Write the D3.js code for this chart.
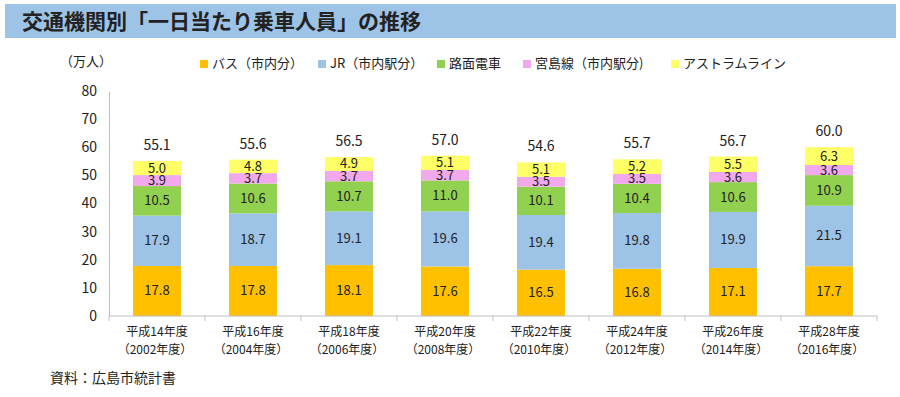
<!DOCTYPE html>
<html lang="ja">
<head>
<meta charset="UTF-8">
<title>交通機関別「一日当たり乗車人員」の推移</title>
<script src="https://d3js.org/d3.v7.min.js"></script>
<style>
  body { margin: 0; background: #fff; }
  svg text { font-family: "Noto Sans CJK JP", "Noto Sans", sans-serif; fill: #222; }
</style>
</head>
<body>
<div id="chart"></div>
<script>
// categories (two-line labels)
const years1 = ["平成14年度", "平成16年度", "平成18年度", "平成20年度", "平成22年度", "平成24年度", "平成26年度", "平成28年度"];
const years2 = ["（2002年度）", "（2004年度）", "（2006年度）", "（2008年度）", "（2010年度）", "（2012年度）", "（2014年度）", "（2016年度）"];

// series values (万人)
const bus     = [17.8, 17.8, 18.1, 17.6, 16.5, 16.8, 17.1, 17.7];
const jr      = [17.9, 18.7, 19.1, 19.6, 19.4, 19.8, 19.9, 21.5];
const tram    = [10.5, 10.6, 10.7, 11.0, 10.1, 10.4, 10.6, 10.9];
const miyajima = [3.9, 3.7, 3.7, 3.7, 3.5, 3.5, 3.6, 3.6];
const astram  = [5.0, 4.8, 4.9, 5.1, 5.1, 5.2, 5.5, 6.3];
const totals  = [55.1, 55.6, 56.5, 57.0, 54.6, 55.7, 56.7, 60.0];

const seriesNames = ["バス（市内分）", "JR（市内駅分）", "路面電車", "宮島線（市内駅分)", "アストラムライン"];
const seriesColors = ["#FFC000", "#9DC3E6", "#92D050", "#F2A9EC", "#FFFF66"];
const yTicks = [0, 10, 20, 30, 40, 50, 60, 70, 80];

const W = 900, H = 397;
const svg = d3.select("#chart").append("svg").attr("width", W).attr("height", H);

// title banner
svg.append("rect").attr("x", 5).attr("y", 4).attr("width", 891).attr("height", 34).attr("fill", "#9DC3E6");
svg.append("text").attr("x", 22).attr("y", 29).attr("font-size", 21).attr("font-weight", "bold")
  .text("交通機関別「一日当たり乗車人員」の推移");

const plot = { left: 109, right: 877, top: 91, bottom: 316 };

const x = d3.scaleBand().domain(years1).range([plot.left, plot.right]).paddingInner(0.5).paddingOuter(0.25);
const y = d3.scaleLinear().domain([0, 80]).range([plot.bottom, plot.top]);

const rows = years1.map((c, i) => ({ cat: c, s0: bus[i], s1: jr[i], s2: tram[i], s3: miyajima[i], s4: astram[i] }));
const stack = d3.stack().keys(["s0", "s1", "s2", "s3", "s4"])(rows);

// y axis
const yAxis = svg.append("g").attr("transform", `translate(${plot.left},0)`)
  .call(d3.axisLeft(y).tickValues(yTicks).tickSize(0).tickPadding(12));
yAxis.select(".domain").attr("stroke", "#bfbfbf");
yAxis.selectAll("text").attr("font-size", 14).attr("font-family", "'Liberation Sans', sans-serif").attr("fill", "#333");

// bars
const layer = svg.selectAll(".layer").data(stack).enter().append("g")
  .attr("fill", (d, i) => seriesColors[i]);
layer.selectAll("rect").data(d => d).enter().append("rect")
  .attr("x", d => x(d.data.cat))
  .attr("width", x.bandwidth())
  .attr("y", d => y(d[1]))
  .attr("height", d => y(d[0]) - y(d[1]));

// segment labels
stack.forEach(s => {
  svg.selectAll(null).data(s).enter().append("text")
    .attr("x", d => x(d.data.cat) + x.bandwidth() / 2)
    .attr("y", d => (y(d[0]) + y(d[1])) / 2 + 4.5)
    .attr("text-anchor", "middle")
    .attr("font-size", 13)
    .attr("font-family", "'Liberation Sans', sans-serif")
    .text(d => (d[1] - d[0]).toFixed(1));
});

// totals
svg.selectAll(".total").data(totals).enter().append("text")
  .attr("x", (d, i) => x(years1[i]) + x.bandwidth() / 2)
  .attr("y", d => y(d) - 11)
  .attr("text-anchor", "middle")
  .attr("font-size", 14)
  .attr("font-family", "'Liberation Sans', sans-serif")
  .text(d => d.toFixed(1));

// x axis
svg.append("line").attr("x1", plot.left).attr("x2", plot.right).attr("y1", plot.bottom).attr("y2", plot.bottom)
  .attr("stroke", "#bfbfbf");
d3.range(years1.length + 1).forEach(i => {
  const tx = plot.left + i * (plot.right - plot.left) / years1.length;
  svg.append("line").attr("x1", tx).attr("x2", tx).attr("y1", plot.bottom).attr("y2", plot.bottom + 5)
    .attr("stroke", "#bfbfbf");
});
years1.forEach((c, i) => {
  const cx = x(c) + x.bandwidth() / 2;
  svg.append("text").attr("x", cx).attr("y", 336).attr("text-anchor", "middle").attr("font-size", 12).text(c);
  svg.append("text").attr("x", cx - 2).attr("y", 354).attr("text-anchor", "middle").attr("font-size", 12).text(years2[i]);
});

// unit
svg.append("text").attr("x", 60).attr("y", 66).attr("font-size", 13).text("（万人）");

// legend
const legendX = [200, 318, 437, 523, 671];
seriesNames.forEach((n, i) => {
  svg.append("rect").attr("x", legendX[i]).attr("y", 60).attr("width", 8).attr("height", 8).attr("fill", seriesColors[i]);
  svg.append("text").attr("x", legendX[i] + 12).attr("y", 68).attr("font-size", 13).text(n);
});

// source
svg.append("text").attr("x", 50).attr("y", 383).attr("font-size", 14).text("資料：広島市統計書");
</script>
</body>
</html>
